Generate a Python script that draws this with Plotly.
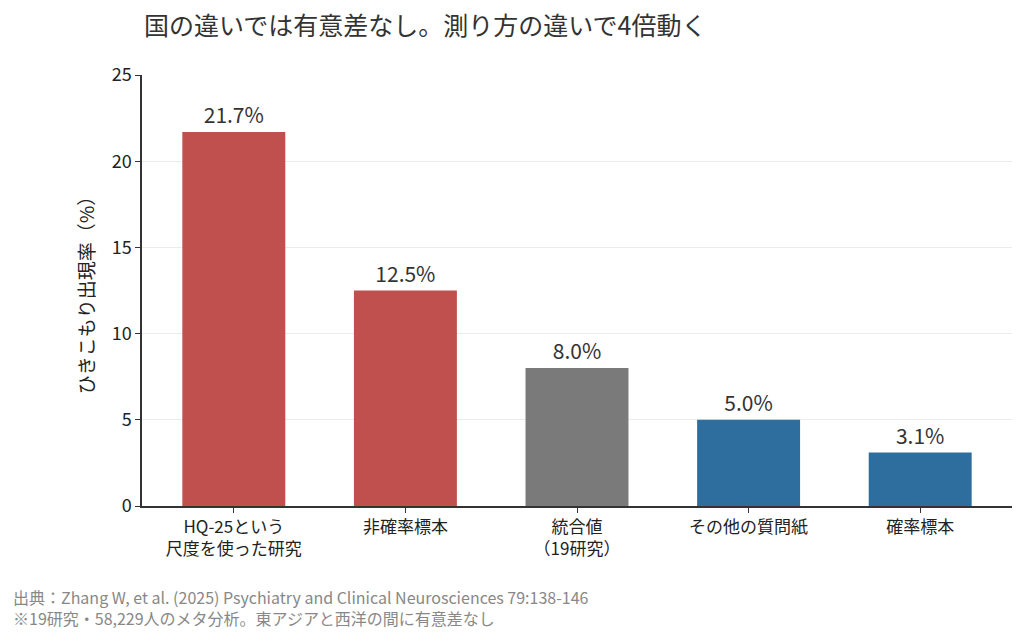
import plotly.graph_objects as go

# データ
categories = ["HQ-25という<br>尺度を使った研究", "非確率標本", "統合値<br>（19研究）", "その他の質問紙", "確率標本"]
values = [21.7, 12.5, 8.0, 5.0, 3.1]
labels = ["21.7%", "12.5%", "8.0%", "5.0%", "3.1%"]
colors = ["#c0504d", "#c0504d", "#7a7a7a", "#2e6e9e", "#2e6e9e"]
y_ticks = [0, 5, 10, 15, 20, 25]
notes = [
    "出典：Zhang W, et al. (2025) Psychiatry and Clinical Neurosciences 79:138-146",
    "※19研究・58,229人のメタ分析。東アジアと西洋の間に有意差なし",
]

FONT = "Noto Sans CJK JP"

fig = go.Figure()
fig.add_trace(go.Bar(
    x=list(range(len(categories))),
    y=values,
    width=0.6,
    marker=dict(color=colors, line=dict(width=0)),
    text=labels,
    textposition="outside",
    textfont=dict(size=21, color="#333333", family=FONT),
    cliponaxis=False,
))

fig.update_layout(
    width=1024, height=642,
    margin=dict(l=134, r=20, t=67, b=144),
    paper_bgcolor="white", plot_bgcolor="white",
    font=dict(family=FONT, color="#222222"),
    showlegend=False,
    title=dict(text="国の違いでは有意差なし。測り方の違いで4倍動く",
               x=136 / 1024, xanchor="left", y=1 - 18 / 642, yanchor="middle",
               font=dict(size=25, color="#333333", family=FONT)),
    xaxis=dict(
        tickmode="array", tickvals=list(range(len(categories))), ticktext=categories,
        range=[-0.535, 4.535], showgrid=False, zeroline=False,
        showline=True, linecolor="#333333", linewidth=1.5,
        ticks="outside", ticklen=5, tickcolor="#333333",
        tickfont=dict(size=17, color="#222222"),
    ),
    yaxis=dict(
        range=[0, 25], tickvals=y_ticks, showgrid=True, gridcolor="#ebebeb",
        zeroline=False, showline=True, linecolor="#333333", linewidth=1.5,
        ticks="outside", ticklen=5, tickcolor="#333333",
        tickfont=dict(size=18, color="#222222"),
        title=dict(text="ひきこもり出現率（%）", font=dict(size=19, color="#222222"), standoff=12),
    ),
)

# 出典と注記
for i, note in enumerate(notes):
    fig.add_annotation(
        text=note,
        xref="paper", yref="paper", x=-131 / 870, y=(-91 - 21 * i) / 431,
        xanchor="left", yanchor="middle",
        align="left", showarrow=False,
        font=dict(size=16, color="#888888", family=FONT),
    )

fig.write_html("out.html")
